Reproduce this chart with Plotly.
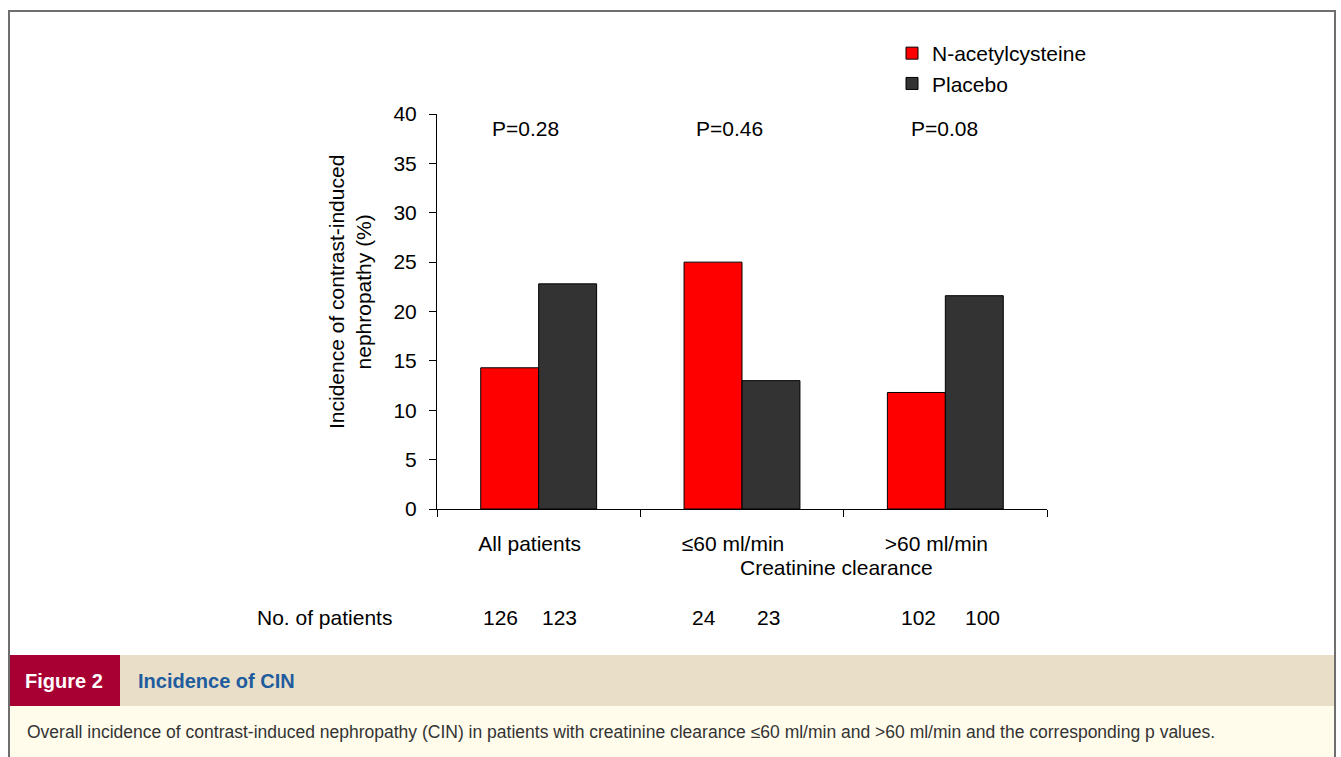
import plotly.graph_objects as go

# ---- data ----
categories = ["All patients", "\u226460 ml/min", ">60 ml/min"]
nac_values = [14.3, 25.0, 11.8]
placebo_values = [22.8, 13.0, 21.6]
p_labels = ["P=0.28", "P=0.46", "P=0.08"]
nac_counts = [126, 24, 102]
placebo_counts = [123, 23, 100]
y_ticks = [0, 5, 10, 15, 20, 25, 30, 35, 40]

W, H = 1341, 757
L, R, T, B = 437, 1047, 114, 509  # plot area in pixels

FONT = "Liberation Sans, Arial, Helvetica, sans-serif"
FS = 21  # chart text size


def px(x):
    """pixel x -> paper x"""
    return (x - L) / (R - L)


def py(y):
    """pixel y -> paper y"""
    return 1 - (y - T) / (B - T)


fig = go.Figure()
fig.add_trace(go.Bar(
    name="N-acetylcysteine", x=categories, y=nac_values,
    marker=dict(color="#FF0000", line=dict(color="#000000", width=1)),
))
fig.add_trace(go.Bar(
    name="Placebo", x=categories, y=placebo_values,
    marker=dict(color="#333333", line=dict(color="#000000", width=1)),
))

annotations = []
# P values above each group
p_x = [-0.065, 0.94, 1.995]
for xv, t in zip(p_x, p_labels):
    annotations.append(dict(x=xv, y=38.5, xref="x", yref="y", text=t, showarrow=False,
                            font=dict(size=FS, color="#000"), xanchor="center", yanchor="middle"))

# y-axis title
annotations.append(dict(x=px(350), y=py(292), xref="paper", yref="paper",
                        text="Incidence of contrast-induced<br>nephropathy (%)",
                        textangle=-90, showarrow=False, font=dict(size=FS, color="#000"),
                        xanchor="center", yanchor="middle"))

# x-axis title
annotations.append(dict(x=px(836), y=py(567), xref="paper", yref="paper",
                        text="Creatinine clearance", showarrow=False,
                        font=dict(size=FS, color="#000"), xanchor="center", yanchor="middle"))

# patient counts row
annotations.append(dict(x=px(324), y=py(617), xref="paper", yref="paper",
                        text="No. of patients", showarrow=False,
                        font=dict(size=FS, color="#000"), xanchor="center", yanchor="middle"))
count_shift = [(-0.19, 0.10), (-0.187, 0.128), (-0.134, 0.185)]
for i, (a, b) in enumerate(zip(nac_counts, placebo_counts)):
    for off, n in zip(count_shift[i], (a, b)):
        annotations.append(dict(x=i + off, y=py(617), xref="x", yref="paper", text=str(n),
                                showarrow=False, font=dict(size=FS, color="#000"),
                                xanchor="center", yanchor="middle"))

# caption band
annotations.append(dict(x=px(64), y=py(681), xref="paper", yref="paper", text="<b>Figure 2</b>",
                        showarrow=False, font=dict(size=20, color="#FFFFFF"),
                        xanchor="center", yanchor="middle"))
annotations.append(dict(x=px(136), y=py(681), xref="paper", yref="paper",
                        text="<b>Incidence of CIN</b>", showarrow=False,
                        font=dict(size=20, color="#1F5C9E"), xanchor="left", yanchor="middle"))
annotations.append(dict(x=px(25), y=py(732), xref="paper", yref="paper",
                        text="Overall incidence of contrast-induced nephropathy (CIN) in patients with "
                             "creatinine clearance \u226460 ml/min and >60 ml/min and the corresponding p values.",
                        showarrow=False, font=dict(size=17.5, color="#333333"),
                        xanchor="left", yanchor="middle"))

shapes = [
    # outer frame
    dict(type="rect", xref="paper", yref="paper", x0=px(9), x1=px(1335), y0=py(11), y1=py(790),
         line=dict(color="#6E6E6E", width=2), fillcolor="rgba(0,0,0,0)", layer="below"),
    # caption backgrounds
    dict(type="rect", xref="paper", yref="paper", x0=px(10), x1=px(1334), y0=py(655), y1=py(706),
         line=dict(width=0), fillcolor="#E9DFC8", layer="below"),
    dict(type="rect", xref="paper", yref="paper", x0=px(10), x1=px(1334), y0=py(706), y1=py(790),
         line=dict(width=0), fillcolor="#FFFCEC", layer="below"),
    dict(type="rect", xref="paper", yref="paper", x0=px(10), x1=px(120), y0=py(655), y1=py(706),
         line=dict(width=0), fillcolor="#A80032", layer="below"),
]

fig.update_layout(
    width=W, height=H,
    margin=dict(l=L, r=W - R, t=T, b=H - B, pad=0),
    paper_bgcolor="#FFFFFF", plot_bgcolor="rgba(0,0,0,0)",
    font=dict(family=FONT, size=FS, color="#000000"),
    barmode="group", bargap=0.43, bargroupgap=0,
    showlegend=True,
    legend=dict(x=px(892), y=py(33), xanchor="left", yanchor="top",
                font=dict(size=FS, color="#000"), bgcolor="rgba(0,0,0,0)",
                traceorder="normal"),
    annotations=annotations,
    shapes=shapes,
    xaxis=dict(showline=True, linecolor="#000", linewidth=1, ticks="outside",
               tickson="boundaries", ticklen=7, tickcolor="#000", showgrid=False,
               tickfont=dict(size=FS, color="#000"), ticklabelshift=-9,
               ticklabelstandoff=16, fixedrange=True),
    yaxis=dict(range=[0, 40], tickvals=y_ticks, showline=True, linecolor="#000", linewidth=1,
               ticks="outside", ticklen=7, tickcolor="#000", showgrid=False, zeroline=False,
               tickfont=dict(size=FS, color="#000"), ticklabelstandoff=8, fixedrange=True),
)

fig.write_html("out.html")
